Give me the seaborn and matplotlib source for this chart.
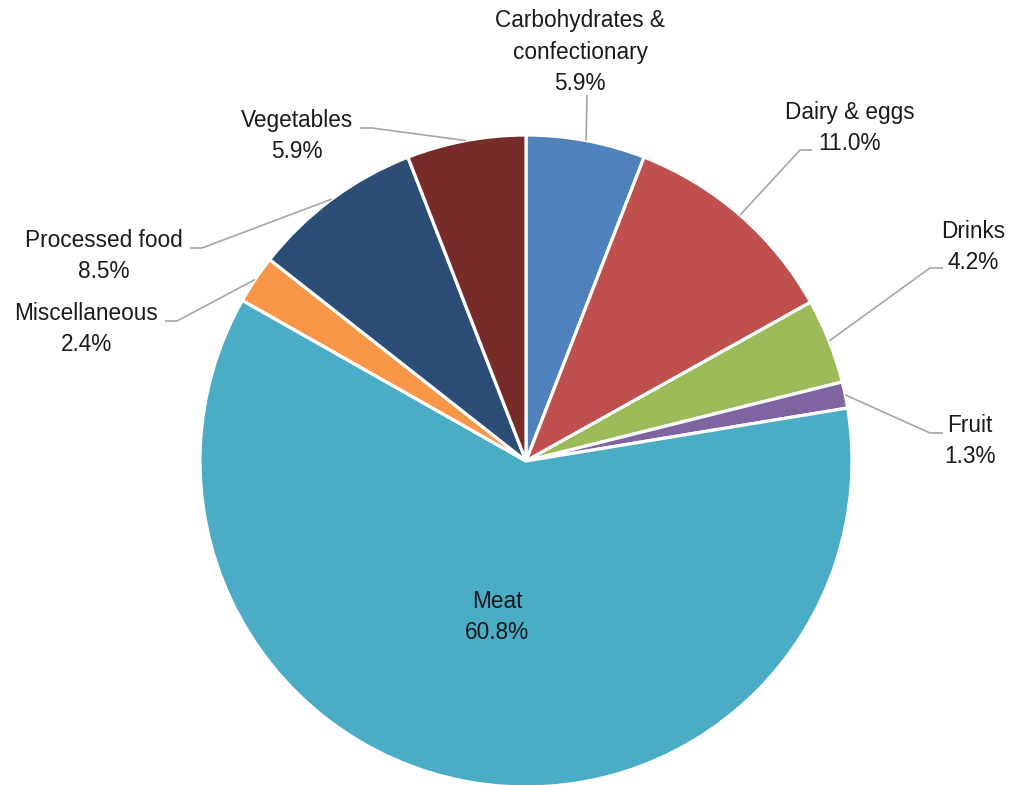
import numpy as np
import matplotlib
matplotlib.use("Agg")
import matplotlib.pyplot as plt
import seaborn as sns

categories = ["Carbohydrates &\nconfectionary", "Dairy & eggs", "Drinks", "Fruit",
              "Meat", "Miscellaneous", "Processed food", "Vegetables"]
shares = [5.9, 11.0, 4.2, 1.3, 60.8, 2.4, 8.5, 5.9]
colors = ["#4F81BD", "#C0504D", "#9BBB59", "#8064A2",
          "#4BACC6", "#F79646", "#2C4D75", "#772C2A"]

sns.set_theme(style="white")
plt.rcParams['font.family'] = ['Liberation Sans', 'DejaVu Sans']

W, H = 1011, 785
fig = plt.figure(figsize=(W / 100, H / 100), dpi=100)
cx, cy, R = 526, 461, 326
ax = fig.add_axes([(cx - R) / W, 1 - (cy + R) / H, 2 * R / W, 2 * R / H])

wedges, _ = ax.pie(shares, colors=colors, startangle=90, counterclock=False,
                   radius=1, wedgeprops=dict(edgecolor="white", linewidth=2.3))
ax.set_xlim(-1, 1)
ax.set_ylim(-1, 1)
ax.set_aspect("auto")
ax.axis("off")

def px(x, y):
    return ((x - cx) / R, (cy - y) / R)

# layout: label center (pixels), elbow points (pixels) for leader lines
label_pos = {
    0: (580, 52), 1: (850, 128), 2: (973, 247), 3: (970, 441),
    4: (497, 617), 5: (86, 329), 6: (104, 256), 7: (297, 136),
}
elbows = {
    0: [(587, 95)],
    1: [(800, 150), (812, 150)],
    2: [(930, 268), (943, 268)],
    3: [(930, 433), (943, 433)],
    5: [(177, 321), (165, 321)],
    6: [(202, 248), (190, 248)],
    7: [(372, 128), (360, 128)],
}

for i, w in enumerate(wedges):
    w.set_clip_on(False)
    mid = np.deg2rad((w.theta1 + w.theta2) / 2)
    ex, ey = np.cos(mid), np.sin(mid)
    if i in elbows:
        pts = [(ex, ey)] + [px(*p) for p in elbows[i]]
        xs, ys = zip(*pts)
        ax.plot(xs, ys, color="#A6A6A6", lw=1.2, solid_capstyle="butt", clip_on=False)
    tx, ty = px(*label_pos[i])
    ax.text(tx, ty, f"{categories[i]}\n{shares[i]:.1f}%", ha="center", va="center",
            fontsize=16.3, color="#1a1a1a", linespacing=1.45, clip_on=False)

fig.savefig("out.png", dpi=100, facecolor="white")
